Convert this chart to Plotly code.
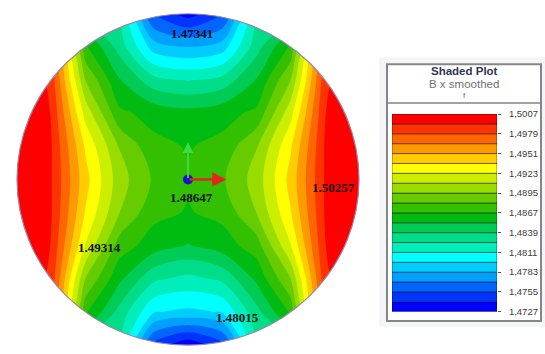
import numpy as np
import plotly.graph_objects as go

# ---------------- data ----------------
u_grid = [-1.0, -0.8, -0.6, -0.4, -0.2, 0.0, 0.2, 0.4, 0.6, 0.8, 1.0]
v_grid = [-1.0, -0.8, -0.6, -0.4, -0.2, 0.0, 0.2, 0.4, 0.6, 0.8, 1.0]

# B x smoothed, rows from v=-1 (bottom) to v=+1 (top)
bx_smoothed = [
    [1.4980, 1.4900, 1.4835, 1.4822, 1.4750, 1.4730, 1.4750, 1.4822, 1.4835, 1.4900, 1.4980],
    [1.5000, 1.4980, 1.4870, 1.4834, 1.4798, 1.4794, 1.4798, 1.4834, 1.4870, 1.4980, 1.5000],
    [1.5015, 1.4988, 1.4895, 1.4856, 1.4828, 1.4821, 1.4828, 1.4856, 1.4895, 1.4988, 1.5015],
    [1.5025, 1.4992, 1.4922, 1.4874, 1.4860, 1.4852, 1.4860, 1.4874, 1.4922, 1.4992, 1.5025],
    [1.5033, 1.4994, 1.4936, 1.4895, 1.4871, 1.4866, 1.4871, 1.4895, 1.4936, 1.4994, 1.5033],
    [1.5033, 1.4994, 1.4942, 1.4901, 1.4879, 1.4869, 1.4879, 1.4901, 1.4942, 1.4994, 1.5033],
    [1.5033, 1.4994, 1.4935, 1.4894, 1.4871, 1.4866, 1.4871, 1.4894, 1.4935, 1.4994, 1.5033],
    [1.5025, 1.4992, 1.4918, 1.4870, 1.4862, 1.4858, 1.4862, 1.4870, 1.4918, 1.4992, 1.5025],
    [1.5015, 1.4988, 1.4895, 1.4854, 1.4830, 1.4824, 1.4830, 1.4854, 1.4895, 1.4988, 1.5015],
    [1.5000, 1.4980, 1.4870, 1.4833, 1.4790, 1.4783, 1.4790, 1.4833, 1.4870, 1.4980, 1.5000],
    [1.4980, 1.4900, 1.4835, 1.4824, 1.4752, 1.4735, 1.4752, 1.4824, 1.4835, 1.4900, 1.4980],
]

probe_values = ["1.47341", "1.50257", "1.49314", "1.48015", "1.48647"]
probe_u = [0.023, 0.848, -0.515, 0.292, 0.023]
probe_v = [0.883, -0.047, -0.409, -0.836, -0.111]

legend_min = 1.4727
legend_step = 0.0014
band_colors = [
    "#0000ff", "#0033ff", "#0066ff", "#00a0ff", "#00ccff",
    "#00ffff", "#00eebb", "#00dd88", "#00cc55", "#00bb11",
    "#33c000", "#66cc00", "#99dd00", "#ccee00", "#ffff00",
    "#ffcc00", "#ff9900", "#ff6600", "#ff3300", "#ff0000",
]
legend_tick_values = [1.4727, 1.4755, 1.4783, 1.4811, 1.4839, 1.4867,
                      1.4895, 1.4923, 1.4951, 1.4979, 1.5007]
legend_tick_labels = ["1,4727", "1,4755", "1,4783", "1,4811", "1,4839", "1,4867",
                      "1,4895", "1,4923", "1,4951", "1,4979", "1,5007"]

# ---------------- helpers ----------------
W, H = 545, 354


def px(x):
    return x / W


def py(y):
    return 1 - y / H


n_bands = len(band_colors)
colorscale = [[i / (n_bands - 1), c] for i, c in enumerate(band_colors)]

fig = go.Figure()

fig.add_trace(go.Contour(
    x=u_grid, y=v_grid, z=bx_smoothed,
    colorscale=colorscale,
    autocontour=False,
    contours=dict(start=legend_min + legend_step,
                  end=legend_min + legend_step * (n_bands - 1) + legend_step * 0.3,
                  size=legend_step, coloring="fill", showlines=False),
    line=dict(width=0, smoothing=0.9),
    showscale=False, hoverinfo="skip",
    xaxis="x", yaxis="y",
))

# origin marker
fig.add_trace(go.Scatter(x=[0], y=[0], mode="markers",
                         marker=dict(size=10, color="#1414c8"),
                         hoverinfo="skip", showlegend=False))

# legend colour bar
band_bases = [legend_min + i * legend_step for i in range(n_bands)]
fig.add_trace(go.Bar(
    x=[0] * n_bands, y=[legend_step] * n_bands, base=band_bases,
    marker=dict(color=band_colors, line=dict(color="rgba(0,0,0,0.45)", width=1)),
    width=1, xaxis="x2", yaxis="y2", hoverinfo="skip", showlegend=False,
))

# ---------------- mask outside the circle ----------------
R_AX = 1.02
theta = np.linspace(0, 2 * np.pi, 241)
cx, cy = np.cos(theta), np.sin(theta)
path = f"M {-R_AX},{-R_AX} L {R_AX},{-R_AX} L {R_AX},{R_AX} L {-R_AX},{R_AX} Z "
path += "M " + " L ".join(f"{a:.5f},{b:.5f}" for a, b in zip(cx, cy)) + " Z"

shapes = [
    dict(type="path", path=path, xref="x", yref="y", fillcolor="white",
         line=dict(width=0), fillrule="evenodd", layer="above"),
    dict(type="circle", xref="x", yref="y", x0=-1, y0=-1, x1=1, y1=1,
         line=dict(color="#9c84a8", width=1.2), layer="above"),
    # legend panel
    dict(type="rect", xref="paper", yref="paper", x0=px(379), x1=px(545), y0=py(331), y1=py(53),
         fillcolor="#f3f5f8", line=dict(width=0), layer="below"),
    dict(type="rect", xref="paper", yref="paper", x0=px(387), x1=px(541), y0=py(325), y1=py(60),
         fillcolor="white", line=dict(color="#858585", width=2), layer="below"),
    dict(type="line", xref="paper", yref="paper", x0=px(387), x1=px(541), y0=py(100), y1=py(100),
         line=dict(color="#858585", width=1.5), layer="below"),
]

annotations = []
for txt, uu, vv in zip(probe_values, probe_u, probe_v):
    annotations.append(dict(x=uu, y=vv, xref="x", yref="y", text="<b>" + txt + "</b>", showarrow=False,
                            font=dict(family="Liberation Serif", size=13, color="#111111"),
                            xanchor="center", yanchor="middle"))

# axis triad arrows
annotations.append(dict(x=0.225, y=0, ax=0, ay=0, xref="x", yref="y", axref="x", ayref="y",
                        text="", showarrow=True, arrowhead=2, arrowsize=1.1, arrowwidth=2.6,
                        arrowcolor="#e3261c"))
annotations.append(dict(x=0, y=0.225, ax=0, ay=0, xref="x", yref="y", axref="x", ayref="y",
                        text="", showarrow=True, arrowhead=2, arrowsize=1.2, arrowwidth=1.8,
                        arrowcolor="#3ede3e"))

# legend header
hdr = dict(xref="paper", yref="paper", showarrow=False, xanchor="center", yanchor="middle")
annotations += [
    dict(hdr, x=px(464), y=py(67), text="<b>Shaded Plot</b>",
         font=dict(family="Liberation Sans", size=11.5, color="#2f3652")),
    dict(hdr, x=px(464), y=py(80), text="B x smoothed",
         font=dict(family="Liberation Sans", size=11.5, color="#707070")),
    dict(hdr, x=px(464), y=py(92), text="f",
         font=dict(family="Liberation Sans", size=8, color="#707070")),
]

fig.update_layout(
    width=W, height=H, autosize=False,
    margin=dict(l=0, r=0, t=0, b=0),
    paper_bgcolor="white", plot_bgcolor="rgba(0,0,0,0)",
    showlegend=False,
    xaxis=dict(domain=[px(188 - 171 * R_AX), px(188 + 171 * R_AX)], range=[-R_AX, R_AX],
               visible=False, fixedrange=True),
    yaxis=dict(domain=[py(179 + 171 * R_AX), py(179 - 171 * R_AX)], range=[-R_AX, R_AX],
               visible=False, fixedrange=True),
    xaxis2=dict(domain=[px(392), px(497)], range=[-0.5, 0.5], visible=False, anchor="y2",
                fixedrange=True),
    yaxis2=dict(domain=[py(315.5), py(111.5)], range=[legend_min, legend_min + n_bands * legend_step],
                anchor="x2", side="right", tickvals=legend_tick_values, ticktext=legend_tick_labels,
                ticks="outside", ticklen=3, tickcolor="#555555", showgrid=False, zeroline=False,
                showline=False, ticklabelstandoff=6, fixedrange=True,
                tickfont=dict(family="Liberation Sans", size=9.5, color="#3c3c3c")),
    shapes=shapes,
    annotations=annotations,
)

fig.write_html("out.html", config={"displayModeBar": False},
               post_script="document.body.style.margin='0';document.body.style.overflow='hidden';")
